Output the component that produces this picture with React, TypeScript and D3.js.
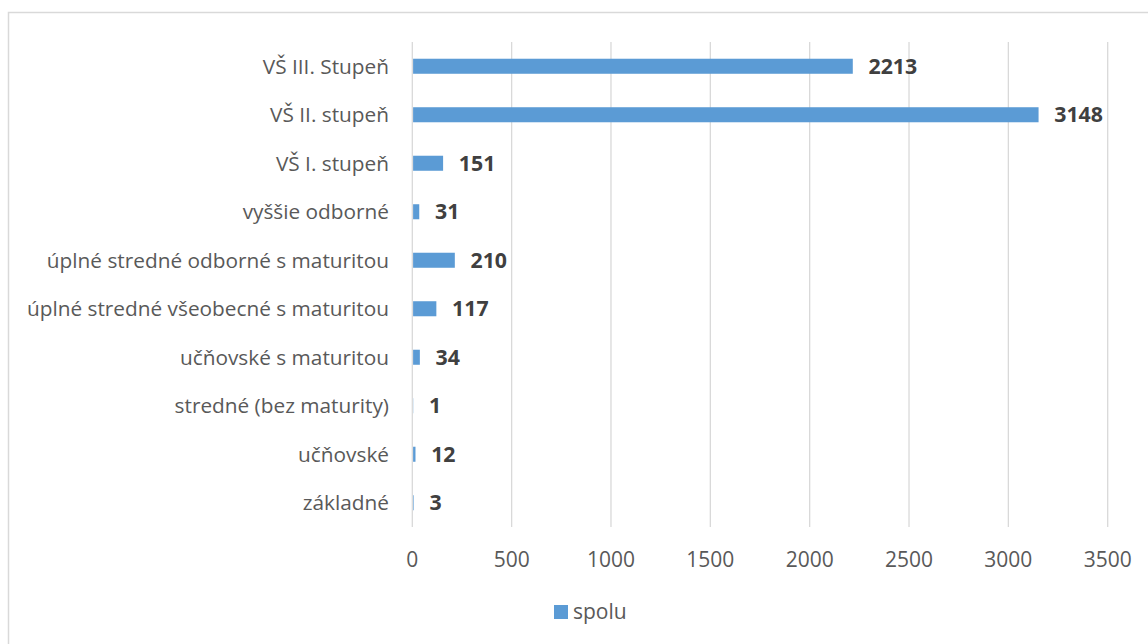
import React from "react";
import * as d3 from "d3";

const categories = [
  "základné",
  "učňovské",
  "stredné (bez maturity)",
  "učňovské s maturitou",
  "úplné stredné všeobecné s maturitou",
  "úplné stredné odborné s maturitou",
  "vyššie odborné",
  "VŠ I. stupeň",
  "VŠ II. stupeň",
  "VŠ III. Stupeň",
];
const spolu = [3, 12, 1, 34, 117, 210, 31, 151, 3148, 2213];
const xTicks = [0, 500, 1000, 1500, 2000, 2500, 3000, 3500];
const seriesName = "spolu";

const W = 1148;
const H = 644;
const FONT = "'Open Sans', 'DejaVu Sans', sans-serif";

export default function App() {
  const x = d3.scaleLinear().domain([0, 3500]).range([412.3, 1107.7]);
  const displayOrder = [...categories].reverse();
  const y = d3.scaleBand<string>().domain(displayOrder).range([42, 527]).padding(0);
  const barH = y.bandwidth() * 0.31;

  return (
    <svg
      width={W}
      height={H}
      style={{ position: "absolute", left: 0, top: 0, background: "#fff" }}
      fontFamily={FONT}
    >
      <rect x={8.5} y={12.5} width={W + 20} height={H + 20} fill="#fff" stroke="#d9d9d9" strokeWidth={1.5} />
      {xTicks.map((t) => (
        <line key={t} x1={x(t)} x2={x(t)} y1={42} y2={527} stroke="#d9d9d9" strokeWidth={1.3} />
      ))}
      {xTicks.map((t) => (
        <text key={"l" + t} x={x(t)} y={566.5} textAnchor="middle" fontSize={21} fill="#595959">
          {t}
        </text>
      ))}
      {categories.map((c, i) => {
        const yc = (y(c) as number) + y.bandwidth() / 2;
        return (
          <g key={c}>
            <text x={389} y={yc} dy="0.36em" textAnchor="end" fontSize={20.8} fill="#595959">
              {c}
            </text>
            <rect x={x(0) + 0.8} y={yc - barH / 2} width={Math.max(0, x(spolu[i]) - x(0))} height={barH} fill="#5b9bd5" />
            <text x={x(spolu[i]) + 16.5} y={yc} dy="0.36em" fontSize={21.3} fontWeight="bold" fill="#404040">
              {spolu[i]}
            </text>
          </g>
        );
      })}
      <rect x={554} y={605} width={14} height={14} fill="#5b9bd5" />
      <text x={573} y={619} fontSize={21} fill="#595959">
        {seriesName}
      </text>
    </svg>
  );
}
